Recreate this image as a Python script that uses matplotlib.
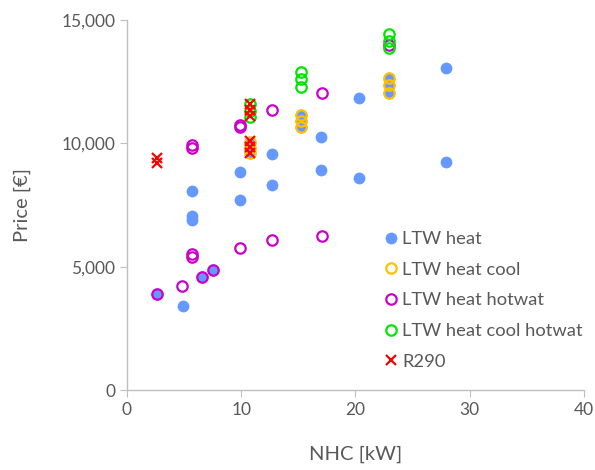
import numpy as np
import matplotlib
matplotlib.use("Agg")
from matplotlib import pyplot as plt

plt.rcParams['font.family'] = ['Lato', 'DejaVu Sans']

# nominal heat capacity [kW] and price [EUR] per product group
heat_x = [2.6, 4.9, 5.7, 5.7, 5.7, 6.6, 7.5, 9.9, 9.9, 10.8, 10.8, 10.8, 12.7, 12.7,
          15.2, 15.2, 15.2, 17.0, 17.0, 20.3, 20.3, 22.9, 22.9, 22.9, 27.9, 27.9]
heat_y = [3900, 3400, 8050, 7050, 6900, 4600, 4850, 8850, 7700, 10000, 9800, 9600, 9550, 8300,
          11150, 10900, 10650, 10250, 8900, 11850, 8600, 12600, 12350, 12050, 13050, 9250]

cool_x = [10.8, 10.8, 10.8, 15.2, 15.2, 15.2, 22.9, 22.9, 22.9]
cool_y = [10050, 9800, 9600, 11150, 10900, 10650, 12650, 12350, 12050]

hotwat_x = [2.6, 4.8, 5.7, 5.7, 5.7, 5.7, 6.6, 7.5, 9.9, 9.9, 9.9, 12.7, 12.7,
            17.1, 17.1, 22.9]
hotwat_y = [3900, 4200, 5500, 5400, 9950, 9800, 4600, 4850, 5750, 10750, 10650, 6100, 11350,
            6250, 12050, 14000]

cool_hotwat_x = [10.8, 10.8, 10.8, 15.2, 15.2, 15.2, 22.9, 22.9, 22.9]
cool_hotwat_y = [11600, 11300, 11050, 12900, 12600, 12300, 14450, 14150, 13850]

r290_x = [2.6, 2.6, 10.8, 10.8, 10.8, 10.8, 10.8, 10.8]
r290_y = [9400, 9200, 10100, 9850, 9600, 11600, 11350, 11100]

fig = plt.figure(figsize=(5.95, 4.70), dpi=100)
ax = fig.add_axes([0.2134, 0.1702, 0.7681, 0.7872])

gray = '#595959'
ax.plot(heat_x, heat_y, 'o', ms=8.5, color='#6699FF', mec='none', label='LTW heat')
ax.plot(cool_x, cool_y, 'o', ms=7.5, mfc='none', mec='#FFC000', mew=1.6, label='LTW heat cool')
ax.plot(hotwat_x, hotwat_y, 'o', ms=7.5, mfc='none', mec='#CC00CC', mew=1.6, label='LTW heat hotwat')
ax.plot(cool_hotwat_x, cool_hotwat_y, 'o', ms=7.5, mfc='none', mec='#00E600', mew=1.6,
        label='LTW heat cool hotwat')
ax.plot(r290_x, r290_y, 'x', ms=7.5, color='#FF0000', mew=1.6, label='R290')

ax.set_xlim(0, 40)
ax.set_ylim(0, 15000)
ax.set_xticks(np.arange(0, 41, 10))
ax.set_yticks(np.arange(0, 15001, 5000))
ax.yaxis.set_major_formatter(matplotlib.ticker.StrMethodFormatter('{x:,.0f}'))

for s in ['top', 'right']:
    ax.spines[s].set_visible(False)
for s in ['left', 'bottom']:
    ax.spines[s].set_color('#BFBFBF')
    ax.spines[s].set_linewidth(1.0)
ax.tick_params(colors='#BFBFBF', labelcolor=gray, labelsize=12.5, length=5, direction='out')

ax.set_xlabel('NHC [kW]', color=gray, fontsize=14.5, labelpad=20)
ax.set_ylabel('Price [€]', color=gray, fontsize=14.5, labelpad=22)

leg = ax.legend(loc='lower left', bbox_to_anchor=(0.55, 0.035), frameon=False, fontsize=13.2,
                labelcolor=gray, handlelength=0.6, handletextpad=0.3, labelspacing=0.8,
                borderaxespad=0)

fig.savefig('out.png', dpi=100)
